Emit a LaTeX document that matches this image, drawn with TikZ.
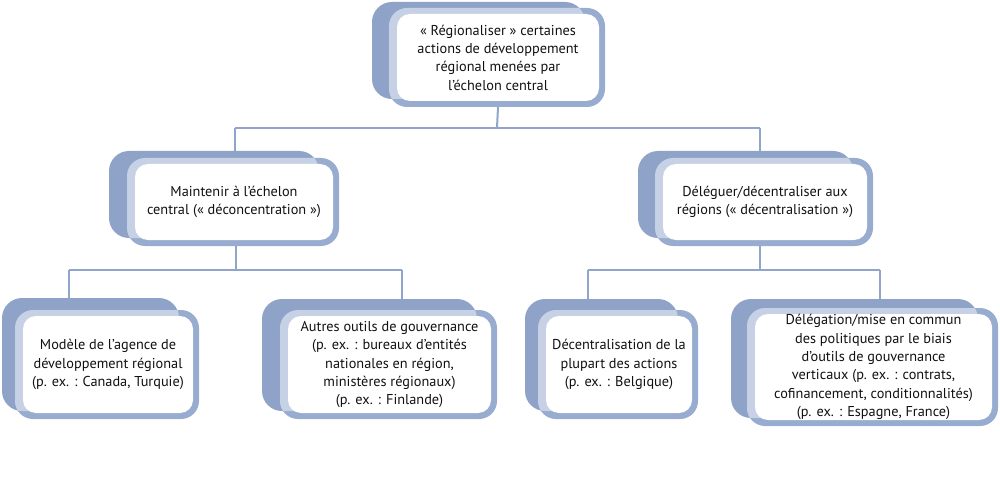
\documentclass[tikz,border=0pt]{standalone}
\usepackage{fontspec}
\setmainfont{PT Sans}
\usetikzlibrary{backgrounds}
\definecolor{backc}{HTML}{8EA3C7}
\definecolor{ringc}{HTML}{97ACCF}
\definecolor{bandc}{HTML}{C7D1E6}
\definecolor{linec}{HTML}{8FA5CA}
\definecolor{textc}{HTML}{111111}
\tikzset{
  boxtext/.style={align=center,inner sep=0pt,text=textc,font=\fontsize{14.3}{18.3}\selectfont},
  conn/.style={draw=linec,line width=2pt}
}
\newcommand\tierbox[8]{%
  \fill[backc,rounded corners=20pt] (#2,#3) rectangle ({#6-20},{#7-8});
  \fill[ringc,rounded corners=18pt] (#4,#5) rectangle (#6,#7);
  \begin{scope}
    \clip[rounded corners=20pt] (#2,#3) rectangle ({#6-20},{#7-8});
    \fill[bandc,rounded corners=18pt] (#4,#5) rectangle (#6,#7);
  \end{scope}
  \fill[white,rounded corners=13pt] ({#4+8},{#5+6}) rectangle ({#6-6},{#7-6});
  \node[boxtext,minimum width={(#6-#4)*1pt},minimum height={(#7-#5)*1pt}] (#1) at ({(#4+#6)/2+1},{(#5+#7)/2}) {#8};
}
\begin{document}
\begin{tikzpicture}[x=1pt,y=-1pt]
\useasboundingbox (0,0) rectangle (1000,478);
\tierbox{top}{372}{2}{389}{8}{605}{107}{« Régionaliser » certaines\\actions de développement\\régional menées par\\l’échelon central}
\tierbox{midL}{109}{151}{127}{158}{339}{246}{Maintenir à l’échelon\\central (« déconcentration »)}
\tierbox{midR}{638}{151}{655}{158}{873}{246}{Déléguer/décentraliser aux\\régions (« décentralisation »)}
\tierbox{bA}{2}{298}{15}{310}{199}{419}{Modèle de l’agence de\\développement régional\\(p. ex. : Canada, Turquie)}
\tierbox{bB}{262}{299}{280}{310}{497}{419}{Autres outils de gouvernance\\(p. ex. : bureaux d’entités\\nationales en région,\\ministères régionaux)\\(p. ex. : Finlande)}
\tierbox{bC}{525}{299}{538}{310}{698}{419}{Décentralisation de la\\plupart des actions\\(p. ex. : Belgique)}
\tierbox{bD}{731}{299}{747}{308}{998}{426}{Délégation/mise en commun\\des politiques par le biais\\d’outils de gouvernance\\verticaux (p. ex. : contrats,\\cofinancement, conditionnalités)\\(p. ex. : Espagne, France)}
\coordinate (hL) at (235,128);
\coordinate (hR) at (760,128);
\coordinate (hM) at (497,128);
\coordinate (lM) at (236,270);
\coordinate (lL) at (69,270);
\coordinate (lR) at (402,270);
\coordinate (rM) at (760,270);
\coordinate (rL) at (588,270);
\coordinate (rR) at (880,270);
\begin{scope}[on background layer]
  \draw[conn] (top.south) -- (hM);
  \draw[conn] (hL) -- (hR);
  \draw[conn] (hL) -- (hL |- midL.north);
  \draw[conn] (hR) -- (hR |- midR.north);
  \draw[conn] (lM |- midL.south) -- (lM);
  \draw[conn] (lL) -- (lR);
  \draw[conn] (lL) -- (lL |- bA.north);
  \draw[conn] (lR) -- (lR |- bB.north);
  \draw[conn] (rM |- midR.south) -- (rM);
  \draw[conn] (rL) -- (rR);
  \draw[conn] (rL) -- (rL |- bC.north);
  \draw[conn] (rR) -- (rR |- bD.north);
\end{scope}
\end{tikzpicture}
\end{document}
